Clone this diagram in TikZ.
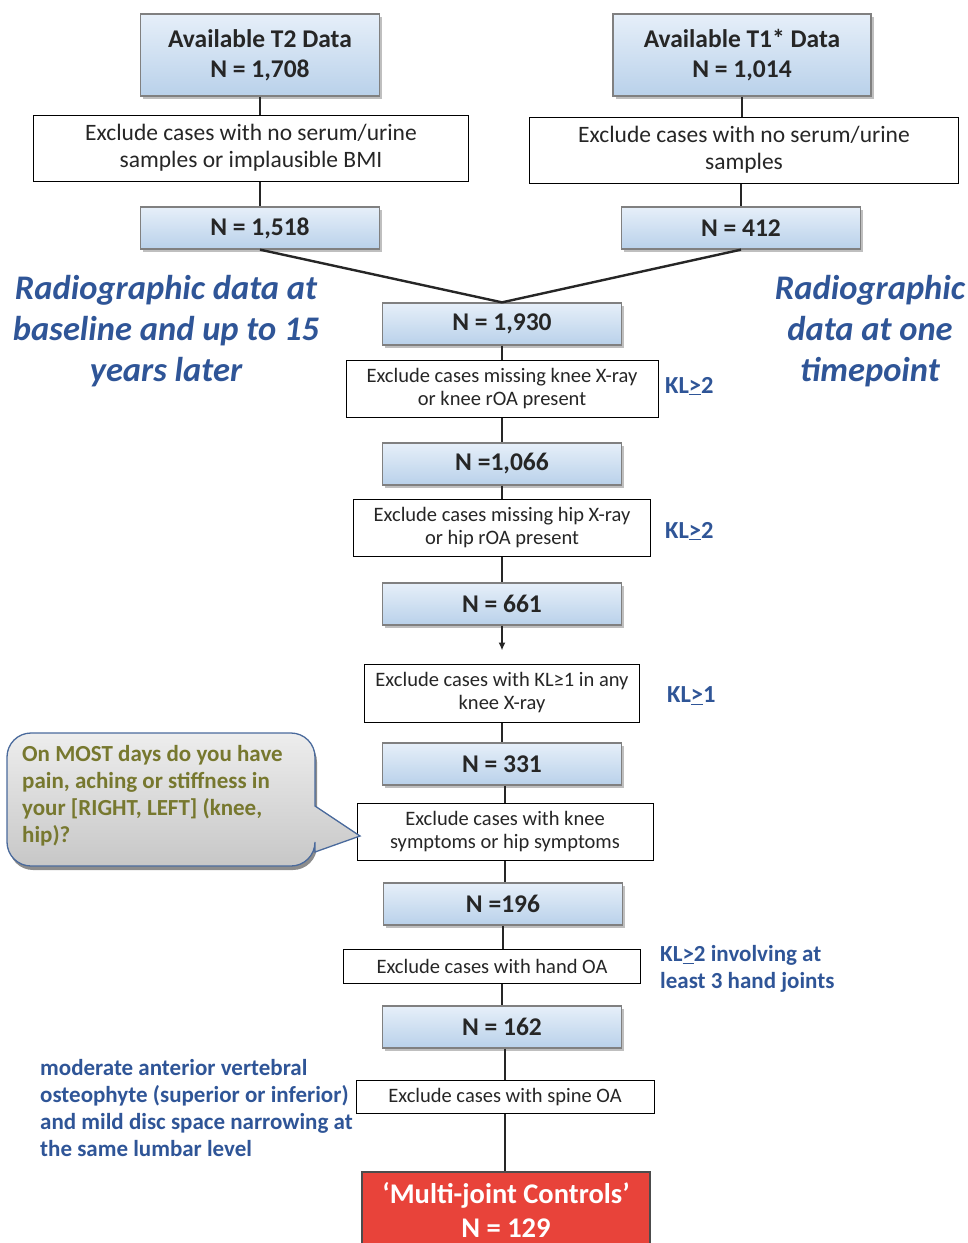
\documentclass[tikz,border=0pt]{standalone}
\usepackage{fontspec}
\setmainfont{Carlito}
\usetikzlibrary{shadows,arrows.meta}
\definecolor{boxtop}{HTML}{E6EFF9}
\definecolor{boxbot}{HTML}{B9D1EA}
\definecolor{txt}{HTML}{262626}
\definecolor{noteblue}{HTML}{2F5597}
\definecolor{olive}{HTML}{77782F}
\definecolor{redbox}{HTML}{E8433A}
\definecolor{callborder}{HTML}{4A6A9C}
\tikzset{
 nbox/.style={draw=black!50, line width=1.3pt, top color=boxtop, bottom color=boxbot, minimum width=239pt, minimum height=42pt, inner sep=0pt, font=\bfseries\fontsize{25.5}{30}\selectfont, text=txt, align=center, drop shadow={shadow xshift=2.5pt, shadow yshift=-2.5pt, fill=black!50}},
 xbox/.style={draw=black, line width=1pt, fill=white, inner sep=0pt, font=\fontsize{20.5}{23}\selectfont, text=txt, align=center},
 bigx/.style={xbox, font=\fontsize{23.5}{27}\selectfont},
 note/.style={text=noteblue, font=\bfseries\fontsize{24.5}{27}\selectfont, inner sep=0pt},
 longnote/.style={note, anchor=west, align=left, font=\bfseries\fontsize{23}{27}\selectfont},
 radio/.style={text=noteblue, font=\bfseries\itshape\fontsize{34.5}{41}\selectfont, align=center, inner sep=0pt},
 link/.style={line width=2.4pt, black!85}
}
\newcommand{\klge}[1]{KL\underline{>}#1}
\begin{document}
\begin{tikzpicture}[x=1pt,y=-1pt]
\useasboundingbox (0,0) rectangle (968,1243);
% top boxes
\node[nbox, minimum height=82pt] (t2) at (260,55) {Available T2 Data\\N = 1,708};
\node[nbox, minimum height=82pt, minimum width=258pt] (t1) at (742,55) {Available T1* Data\\N = 1,014};
\node[bigx, minimum width=435pt, minimum height=66pt] (ex1) at (251,148) {Exclude cases with no serum/urine\\samples or implausible BMI};
\node[bigx, minimum width=429pt, minimum height=66pt] (ex2) at (744,150) {Exclude cases with no serum/urine\\samples};
\node[nbox] (n1518) at (260,228) {N = 1,518};
\node[nbox] (n412) at (741,228) {N = 412};
\node[nbox] (n1930) at (502,324) {N = 1,930};
% side titles
\node[radio] (rl) at (166,331) {Radiographic data at\\baseline and up to 15\\years later};
\node[radio] (rr) at (870,331) {Radiographic\\data at one\\timepoint};
% column
\node[xbox, minimum width=312pt, minimum height=57pt] (exk) at (502,389) {Exclude cases missing knee X-ray\\or knee rOA present};
\node[note, anchor=west] (kl1) at (665,386) {\klge{2}};
\node[nbox] (n1066) at (502,464) {N =1,066};
\node[xbox, minimum width=297pt, minimum height=57pt] (exh) at (502,528) {Exclude cases missing hip X-ray\\or hip rOA present};
\node[note, anchor=west] (kl2) at (665,531) {\klge{2}};
\node[nbox] (n661) at (502,604) {N = 661};
\node[xbox, minimum width=275pt, minimum height=58pt] (exkl) at (502,693) {Exclude cases with KL≥1 in any\\knee X-ray};
\node[note, anchor=west] (kl3) at (667,696) {\klge{1}};
\node[nbox] (n331) at (502,764) {N = 331};
\node[xbox, minimum width=296pt, minimum height=57pt] (exs) at (505,832) {Exclude cases with knee\\symptoms or hip symptoms};
\node[nbox] (n196) at (503,904) {N =196};
\node[xbox, minimum width=297pt, minimum height=34pt] (exhand) at (492,966) {Exclude cases with hand OA};
\node[longnote] (kl4) at (660,969) {\klge{2} involving at\\least 3 hand joints};
\node[nbox] (n162) at (502,1027) {N = 162};
\node[xbox, minimum width=298pt, minimum height=33pt] (exsp) at (505,1097) {Exclude cases with spine OA};
\node[longnote] (spn) at (40,1108) {moderate anterior vertebral\\osteophyte (superior or inferior)\\and mild disc space narrowing at\\the same lumbar level};
\node[draw=black!70, line width=1.3pt, fill=redbox, minimum width=288pt, minimum height=76pt, text=white, font=\bfseries\fontsize{28.5}{34}\selectfont, align=center] (fin) at (506,1210) {‘Multi-joint Controls’\\N = 129};
% callout
\fill[black!45, rounded corners=24] (9,738) -- (317,738) -- (317,870) -- (9,870) -- cycle;
\draw[callborder, line width=1.3pt, top color=white!93!black, bottom color=black!22, rounded corners=24]
  (7,733) -- (315,733) [sharp corners] -- (315,806) -- (360,836) -- (315,852) [rounded corners=24] -- (315,866) -- (7,866) -- cycle;
\node[text=olive, font=\bfseries\fontsize{23}{27}\selectfont, align=left, anchor=north west, inner sep=0pt] (q) at (22,745) {On MOST days do you have\\pain, aching or stiffness in\\your [RIGHT, LEFT] (knee,\\hip)?};
% links
\draw[link] (t2.south) -- (ex1.north -| t2.south);
\draw[link] (ex1.south -| t2.south) -- (n1518.north);
\draw[link] (t1.south) -- (ex2.north -| t1.south);
\draw[link] (ex2.south -| n412.north) -- (n412.north);
\draw[link] (n1518.south) -- (n1930.north);
\draw[link] (n412.south) -- (n1930.north);
\draw[link] (n1930.south) -- (exk.north);
\draw[link] (exk.south) -- (n1066.north);
\draw[link] (n1066.south) -- (exh.north);
\draw[link] (exh.south) -- (n661.north);
\draw[line width=1.6pt, black!85, -{Latex[length=8pt,width=7pt]}, shorten >=13pt] (n661.south) -- (exkl.north);
\draw[link] (exkl.south) -- (n331.north);
\draw[link] (n331.south -| exs.north) -- (exs.north);
\draw[link] (exs.south) -- (n196.north -| exs.south);
\draw[link] (n196.south) -- (exhand.north -| n196.south);
\draw[link] (exhand.south -| n162.north) -- (n162.north);
\draw[link] (n162.south -| exsp.north) -- (exsp.north);
\draw[link] (exsp.south) -- (fin.north -| exsp.south);
\end{tikzpicture}
\end{document}
